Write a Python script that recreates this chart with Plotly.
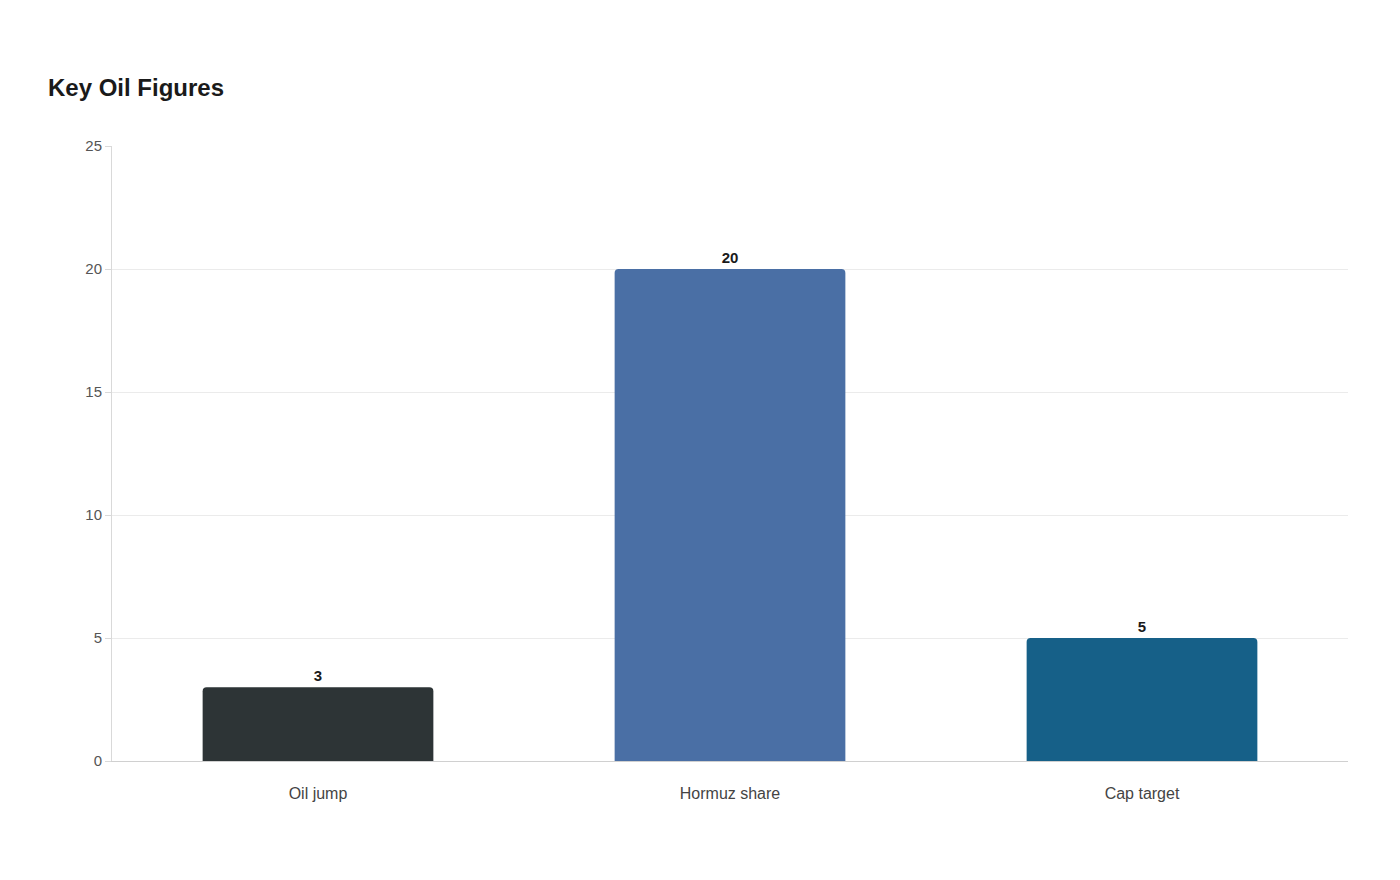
import plotly.graph_objects as go

categories = ["Oil jump", "Hormuz share", "Cap target"]
values = [3, 20, 5]
colors = ["#2d3436", "#4a6fa5", "#166088"]

fig = go.Figure(go.Bar(
    x=categories, y=values, width=0.56,
    marker=dict(color=colors, cornerradius=4, line=dict(width=0)),
    text=[str(v) for v in values], textposition="outside", cliponaxis=False,
    textfont=dict(family="Liberation Sans, Arial", size=15, color="#1a1a1a", weight="bold"),
))
fig.update_layout(
    width=1400, height=880, plot_bgcolor="white", paper_bgcolor="white",
    margin=dict(l=104, r=60, t=138, b=127),
    font=dict(family="Liberation Sans, Arial", color="#555555", size=15),
    title=dict(text="<b>Key Oil Figures</b>", x=40/1400, xanchor="left", y=1-80/880, yanchor="middle",
               font=dict(size=24, color="#1a1a1a")),
    showlegend=False, bargap=0.44,
)
fig.update_yaxes(range=[0, 25], dtick=5, gridcolor="#ebebeb", showline=True, linecolor="#d9d9d9",
                 ticks="outside", tickcolor="#d9d9d9", ticklen=6, zeroline=False, fixedrange=True)
fig.update_xaxes(showline=True, linecolor="#d0d0d0", ticks="", ticklabelstandoff=18,
                 tickfont=dict(size=16, color="#444444"))
fig.write_html("out.html")
